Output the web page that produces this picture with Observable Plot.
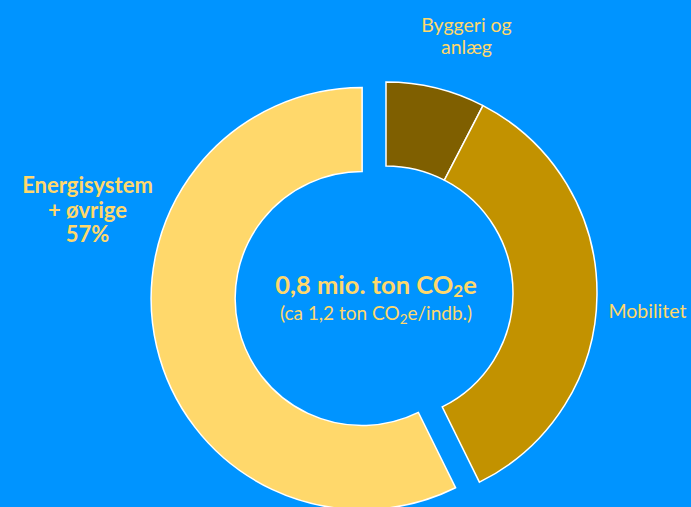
<!DOCTYPE html>
<html><head><meta charset="utf-8">
<script src="https://cdn.jsdelivr.net/npm/d3@7"></script>
<script src="https://cdn.jsdelivr.net/npm/@observablehq/plot@0.6"></script>
<style>html,body{margin:0;padding:0;background:#0094FF;overflow:hidden}</style>
</head><body><div id="chart"></div>
<script>
// ---- data ----
const categories = ["Byggeri og anlæg", "Mobilitet", "Energisystem + øvrige"];
const shares = [7.6, 35.1, 57.3];
const labels = ["Byggeri og\nanlæg", "Mobilitet", "Energisystem\n+ øvrige\n" + Math.round(57.3) + "%"];
const sliceColors = ["#7F5F00", "#C29200", "#FFD86B"];
const exploded = [false, false, true];
const totalMain = ["0,8 mio. ton CO", "2", "e"];
const totalSub = ["(ca 1,2 ton CO", "2", "e/indb.)"];

const data = categories.map((c, i) => ({category: c, share: shares[i], color: sliceColors[i], exploded: exploded[i], label: labels[i]}));

const W = 691, H = 507;
const cx = 386, cy = 293, rOuter = 211, rInner = 127, explodeDist = 24.5;
const textColor = "#FFD86B";
const font = "Lato, 'Open Sans', sans-serif";

const pie = d3.pie().sort(null).value(d => d.share)(data);
const arc = d3.arc().innerRadius(rInner).outerRadius(rOuter);

function donut(index, scales) {
  const {x, y} = scales;
  const g = d3.create("svg:g");
  for (const p of pie) {
    const mid = (p.startAngle + p.endAngle) / 2;
    const off = p.data.exploded ? explodeDist : 0;
    const px = x(cx + off * Math.sin(mid)), py = y(cy - off * Math.cos(mid));
    g.append("path")
      .attr("transform", `translate(${px},${py})`)
      .attr("d", arc(p))
      .attr("fill", p.data.color)
      .attr("stroke", "#fff")
      .attr("stroke-width", 1.5)
      .attr("stroke-linejoin", "miter");
  }
  return g.node();
}

function centerText(index, scales) {
  const {x, y} = scales;
  const g = d3.create("svg:g").attr("fill", textColor).attr("font-family", font).attr("text-anchor", "middle");
  const t1 = g.append("text").attr("x", x(376)).attr("y", y(294)).attr("font-size", 25.5).attr("font-weight", 700);
  t1.append("tspan").text(totalMain[0]);
  t1.append("tspan").text(totalMain[1]).attr("font-size", 17).attr("dy", 3);
  t1.append("tspan").text(totalMain[2]).attr("dy", -3);
  const t2 = g.append("text").attr("x", x(376)).attr("y", y(320)).attr("font-size", 19).attr("font-weight", 400);
  t2.append("tspan").text(totalSub[0]);
  t2.append("tspan").text(totalSub[1]).attr("font-size", 13.5).attr("dy", 4);
  t2.append("tspan").text(totalSub[2]).attr("dy", -4);
  return g.node();
}

const chart = Plot.plot({
  width: W, height: H, margin: 0,
  style: {background: "#0094FF", overflow: "visible"},
  x: {domain: [0, W], range: [0, W], axis: null},
  y: {domain: [0, H], range: [0, H], axis: null},
  marks: [
    donut,
    Plot.text([data[0]], {x: 466, y: 16, text: "label", lineAnchor: "top", lineHeight: 1.13, fontSize: 19.5, fontWeight: 400, fill: textColor, fontFamily: font, textAnchor: "middle"}),
    Plot.text([data[1]], {x: 608, y: 304, text: "label", lineAnchor: "top", fontSize: 19.5, fontWeight: 400, fill: textColor, fontFamily: font, textAnchor: "start"}),
    Plot.text([data[2]], {x: 87, y: 175, text: "label", lineAnchor: "top", lineHeight: 1.12, fontSize: 22, fontWeight: 700, fill: textColor, fontFamily: font, textAnchor: "middle"}),
    centerText
  ]
});
document.getElementById("chart").appendChild(chart);
</script>
</body></html>
